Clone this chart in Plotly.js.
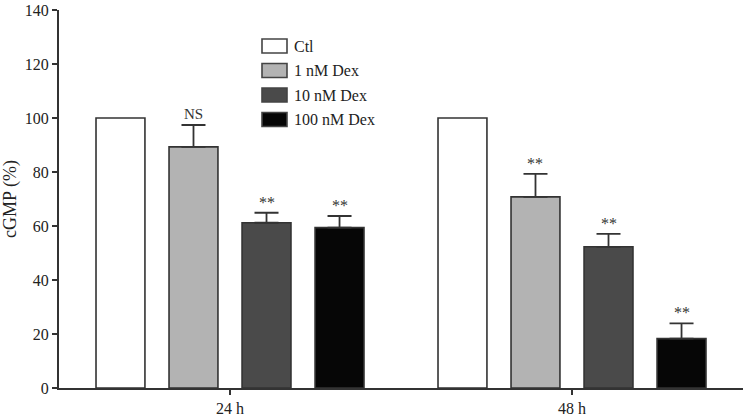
<!DOCTYPE html>
<html><head><meta charset="utf-8">
<script src="https://cdn.plot.ly/plotly-3.0.1.min.js"></script>
<style>body{margin:0;background:#fff}#chart{width:747px;height:416px}</style>
</head><body><div id="chart"></div>
<script>
const groups = ["24 h", "48 h"];
const seriesNames = ["Ctl", "1 nM Dex", "10 nM Dex", "100 nM Dex"];
const ctlValues = [100, 100];
const dex1Values = [89.3, 70.8];
const dex10Values = [61.2, 52.3];
const dex100Values = [59.4, 18.3];
const ctlErr = [null, null];
const dex1Err = [8.1, 8.5];
const dex10Err = [3.7, 4.8];
const dex100Err = [4.3, 5.6];
const dex1Marks = ["NS", "**"];
const dex10Marks = ["**", "**"];
const dex100Marks = ["**", "**"];

const colors = ["#ffffff", "#b3b3b3", "#4a4a4a", "#060606"];
const allValues = [ctlValues, dex1Values, dex10Values, dex100Values];
const allErr = [ctlErr, dex1Err, dex10Err, dex100Err];
const allMarks = [null, dex1Marks, dex10Marks, dex100Marks];
const bargap = 0.146;

const W = 747, H = 416, M = {l: 59, r: 4, t: 10, b: 28};
const pw = W - M.l - M.r, ph = H - M.t - M.b;
const px2x = p => (p - M.l) / pw;
const py2y = p => (H - M.b - p) / ph;

const traces = seriesNames.map((n, i) => ({
  type: "bar", name: n, x: groups, y: allValues[i], showlegend: false,
  marker: {color: colors[i], line: {color: "#333", width: 1.6}},
  error_y: {type: "data", array: allErr[i], arrayminus: allErr[i].map(() => 0), symmetric: false,
            visible: allErr[i].some(v => v !== null), color: "#333", thickness: 1.8, width: 12}
}));

const annotations = [];
allMarks.forEach((marks, si) => {
  if (!marks) return;
  marks.forEach((m, gi) => {
    annotations.push({
      x: gi + (si - 1.5) * (1 - bargap) / 4, y: allValues[si][gi] + allErr[si][gi],
      xref: "x", yref: "y", text: m, showarrow: false, yanchor: "bottom", yshift: m === "NS" ? 1 : 0,
      font: {family: "Liberation Serif, serif", size: m === "NS" ? 15 : 16, color: "#333"}
    });
  });
});

// custom legend
const shapes = [];
seriesNames.forEach((n, i) => {
  const cy = 46 + i * 24.5;
  shapes.push({type: "rect", xref: "paper", yref: "paper",
    x0: px2x(262), x1: px2x(287), y0: py2y(cy + 7), y1: py2y(cy - 7),
    fillcolor: colors[i], line: {color: "#444", width: 1.6}});
  annotations.push({xref: "paper", yref: "paper", x: px2x(292), y: py2y(cy), xanchor: "left", yanchor: "middle",
    text: n, showarrow: false, font: {family: "Liberation Serif, serif", size: 16, color: "#222"}});
});

const layout = {
  width: W, height: H,
  margin: M,
  paper_bgcolor: "#fff", plot_bgcolor: "#fff",
  barmode: "group", bargap: bargap, bargroupgap: 0.33,
  font: {family: "Liberation Serif, serif", size: 15, color: "#222"},
  xaxis: {type: "category", range: [-0.5, 1.5], showline: true, linecolor: "#333", linewidth: 2,
          ticks: "outside", ticklen: 5, tickwidth: 1.5, tickcolor: "#333", showgrid: false, zeroline: false,
          tickfont: {size: 16}},
  yaxis: {range: [0, 140], dtick: 20, showline: true, linecolor: "#333", linewidth: 2,
          ticks: "outside", ticklen: 5, tickwidth: 1.5, tickcolor: "#333", showgrid: false, zeroline: false,
          tickfont: {size: 16},
          title: {text: "cGMP (%)", font: {size: 18}, standoff: 5}},
  showlegend: false,
  shapes: shapes,
  annotations: annotations
};
Plotly.newPlot("chart", traces, layout, {displayModeBar: false, staticPlot: true});
</script></body></html>
